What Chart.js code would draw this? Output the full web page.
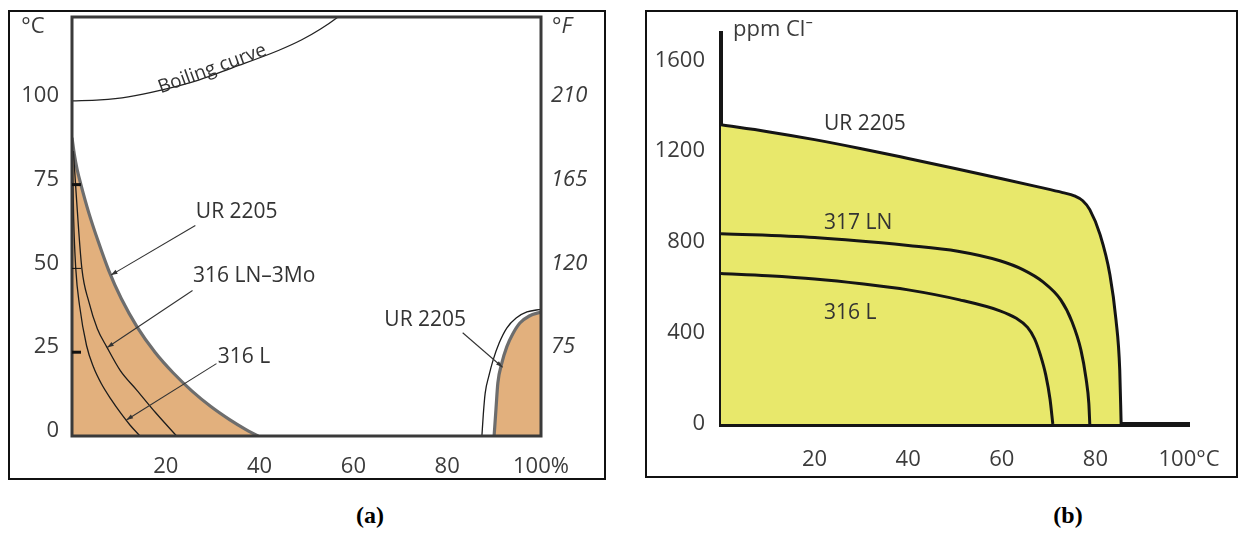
<!DOCTYPE html>
<html>
<head>
<meta charset="utf-8">
<script src="https://cdn.jsdelivr.net/npm/chart.js@4.4.0/dist/chart.umd.min.js"></script>
<style>
  body { margin:0; background:#fff; width:1247px; height:533px; position:relative; overflow:hidden; }
  .panel { position:absolute; box-sizing:border-box; border:2px solid #111; background:#fff; }
  #boxA { left:8px; top:10px; width:598px; height:470px; }
  #boxB { left:645px; top:10px; width:593px; height:468px; }
  .cap { position:absolute; top:502px; font:bold 24px "Liberation Serif", "DejaVu Serif", serif; transform:translateX(-50%); }
</style>
</head>
<body>
<div class="panel" id="boxA"><canvas id="chartA"></canvas></div>
<div class="panel" id="boxB"><canvas id="chartB"></canvas></div>
<div class="cap" style="left:370px">(a)</div>
<div class="cap" style="left:1068px">(b)</div>

<script>
// ---- (a) temperature (°C) against NaCl concentration (%) ----
const pctTicks = [20, 40, 60, 80, 100]
const celsiusTicks = [0, 25, 50, 75, 100]
const fahrenheitTicks = ['75', '120', '165', '210']   // shown at 25, 50, 75, 100 °C

const boilPct = [0, 6, 12, 19, 27, 34.3, 44, 49, 53, 56.5, 59]
const boilC   = [100, 100.3, 101.2, 103.2, 106.2, 109.9, 115, 118.2, 121.4, 124.8, 127.6]

const urLeftPct = [0, 0.5, 1.1, 1.9, 3.6, 5.6, 7.8, 10.5, 13.9, 17.7, 21.6, 25.6, 29.6, 33.6, 37, 39.7]
const urLeftC   = [89, 84, 79.5, 75, 66.5, 58, 49.5, 41, 32.5, 25, 18.8, 13.4, 8.8, 4.9, 2, 0]

const ln3moPct = [0.3, 0.9, 2.1, 3.6, 5.4, 7.4, 10.3, 13.8, 17.8, 22.3]
const ln3moC   = [85, 72, 50, 40, 32, 26.6, 19.5, 13.7, 7, 0]

const l316Pct = [0.1, 0.35, 0.8, 1.6, 3.1, 4.6, 6.3, 8.3, 10.4, 12.4, 14.5]
const l316C   = [84, 65, 50, 39, 27, 20.5, 15.5, 11, 6.8, 3.2, 0]

const urRightPct = [90, 90.4, 90.8, 91.6, 92.7, 94, 95.5, 97.5, 100]
const urRightC   = [0, 8, 15.8, 21.5, 26.6, 30.5, 33.7, 35.8, 37]
const urRightOuterPct = [87.4, 87.7, 88.1, 88.9, 89.8, 91.1, 92.7, 94.7, 97, 100]
const urRightOuterC   = [0, 6.5, 12.8, 18, 22.7, 27.8, 32.2, 35.2, 37, 37.8]

// ---- (b) chloride (ppm) against temperature (°C) ----
const tempTicks = [20, 40, 60, 80, 100]
const ppmTicks = [0, 400, 800, 1200, 1600]

const bUrT   = [0, 10, 20, 30, 40, 50, 60, 68, 73, 75.5, 77.3, 78.8, 81, 83.1, 84.4, 85.2, 85.5]
const bUrPpm = [1316, 1286, 1251, 1211, 1168, 1124, 1079, 1042, 1018, 1004, 982, 943, 833, 657, 458, 238, 0]

const b317T   = [0, 20, 40, 50.6, 59.6, 64.5, 68.8, 72.6, 75, 76.9, 78, 78.6, 78.8]
const b317Ppm = [837, 820, 785, 760, 718, 679, 625, 546, 450, 326, 200, 90, 0]

const b316T   = [0, 10, 20, 30, 40, 51, 59.6, 63, 65.5, 67, 68.3, 69.4, 70.3, 70.9]
const b316Ppm = [662, 652, 638, 617, 590, 546, 498, 466, 425, 375, 300, 215, 110, 0]

const pts = (xs, ys) => xs.map((x, i) => ({x: x, y: ys[i]}))

const sans = '"Open Sans", "Noto Sans", sans-serif'
const ink = '#3b3b3b'
const tan = '#e2b07d'
const yellow = '#e8e86b'

function arrow(ctx, x1, y1, x2, y2) {
    ctx.beginPath(); ctx.moveTo(x1, y1); ctx.lineTo(x2, y2); ctx.stroke()
    const a = Math.atan2(y2 - y1, x2 - x1), h = 7
    ctx.beginPath()
    ctx.moveTo(x2, y2)
    ctx.lineTo(x2 - h * Math.cos(a - 0.32), y2 - h * Math.sin(a - 0.32))
    ctx.lineTo(x2 - h * Math.cos(a + 0.32), y2 - h * Math.sin(a + 0.32))
    ctx.closePath(); ctx.fill()
}

// fixed axis sizes, and no extra room for overhanging tick labels
const fixSize = (w, h) => s => {
    if (w !== null) s.width = w
    if (h !== null) s.height = h
    s.paddingTop = s.paddingBottom = s.paddingLeft = s.paddingRight = 0
}

const curve = {pointRadius: 0, cubicInterpolationMode: 'monotone', fill: false}
const noGrid = {display: false, drawTicks: false}

// annotations for (a): labels and leader lines in data units
const annotA = {
    id: 'annotA',
    afterDatasetsDraw(chart) {
        const {ctx, chartArea: ca, scales: {x, y}} = chart
        ctx.save()
        // frame round the plot
        ctx.strokeStyle = '#3a3a3a'; ctx.lineWidth = 3
        ctx.strokeRect(ca.left, ca.top, ca.right - ca.left, ca.bottom - ca.top)
        // short inner ticks on the °C side
        ctx.strokeStyle = '#111'
        ;[[25, 3], [50, 1], [75, 3]].forEach(([v, w]) => {
            ctx.lineWidth = w
            ctx.beginPath(); ctx.moveTo(ca.left, y.getPixelForValue(v)); ctx.lineTo(ca.left + 9, y.getPixelForValue(v)); ctx.stroke()
        })
        ctx.fillStyle = '#333'; ctx.strokeStyle = '#333'; ctx.lineWidth = 1.1
        ctx.font = '21px ' + sans
        ctx.textBaseline = 'middle'; ctx.textAlign = 'left'
        const labels = [['UR 2205', 26.4, 66.9], ['316 LN\u20133Mo', 25.8, 47.8], ['316 L', 31.1, 23.6], ['UR 2205', 66.6, 34.6]]
        labels.forEach(([t, px, py]) => ctx.fillText(t, x.getPixelForValue(px), y.getPixelForValue(py)))
        const leaders = [[26.3, 62.8, 8.3, 48], [25.7, 43.4, 7.5, 26.4], [30.8, 21.6, 11.6, 4.8], [83.3, 30.8, 91.8, 20.5]]
        leaders.forEach(([a, b, c, d]) => arrow(ctx, x.getPixelForValue(a), y.getPixelForValue(b), x.getPixelForValue(c), y.getPixelForValue(d)))
        // boiling curve caption, along the curve
        ctx.save()
        ctx.translate(x.getPixelForValue(29.9), y.getPixelForValue(109.5))
        ctx.rotate(-20 * Math.PI / 180)
        ctx.textAlign = 'center'
        ctx.font = '19px ' + sans
        ctx.fillText('Boiling curve', 0, 0)
        ctx.restore()
        // units
        ctx.fillStyle = ink
        ctx.font = '22px ' + sans
        ctx.textAlign = 'center'
        ctx.fillText('\u00b0C', ca.left - 39, ca.top + 10)
        ctx.font = 'italic 22px ' + sans
        ctx.fillText('\u00b0F', ca.right + 21, ca.top + 10)
        ctx.restore()
    }
}

new Chart(document.getElementById('chartA'), {
    type: 'line',
    data: {
        datasets: [
            {...curve, data: pts(boilPct, boilC), borderColor: '#222', borderWidth: 1.3, order: 1},
            {...curve, data: pts(ln3moPct, ln3moC), borderColor: '#1c1c1c', borderWidth: 1.3, order: 1},
            {...curve, data: pts(l316Pct, l316C), borderColor: '#1c1c1c', borderWidth: 1.3, order: 1},
            {...curve, data: pts(urRightOuterPct, urRightOuterC), borderColor: '#1c1c1c', borderWidth: 1.3, order: 1},
            {...curve, data: pts(urLeftPct, urLeftC), borderColor: '#6d6d6d', borderWidth: 3.2, backgroundColor: tan, fill: 'origin', order: 2},
            {...curve, data: pts(urRightPct, urRightC), borderColor: '#6d6d6d', borderWidth: 3.2, backgroundColor: tan, fill: 'origin', order: 2}
        ]
    },
    options: {
        responsive: true,
        maintainAspectRatio: false,
        animation: false,
        layout: {padding: {top: 5, left: 0, right: 0, bottom: 0}},
        plugins: {legend: {display: false}, tooltip: {enabled: false}},
        scales: {
            x: {
                type: 'linear', min: 0, max: 100,
                afterBuildTicks: s => { s.ticks = pctTicks.map(v => ({value: v})) },
                afterFit: fixSize(null, 42),
                ticks: {callback: v => v === 100 ? '100%' : String(v), font: {family: sans, size: 22}, color: ink, padding: 18, maxRotation: 0, autoSkip: false},
                grid: noGrid, border: {display: false}
            },
            y: {
                min: 0, max: 125,
                afterBuildTicks: s => { s.ticks = celsiusTicks.map(v => ({value: v})) },
                afterFit: fixSize(62, null),
                ticks: {callback: v => String(v), font: {family: sans, size: 22}, color: ink, padding: 13, labelOffset: -5, autoSkip: false},
                grid: noGrid, border: {display: false}
            },
            yF: {
                position: 'right', min: 0, max: 125,
                afterBuildTicks: s => { s.ticks = [25, 50, 75, 100].map(v => ({value: v})) },
                afterFit: fixSize(63, null),
                ticks: {callback: (v, i) => fahrenheitTicks[i], font: {family: sans, size: 22, style: 'italic'}, color: ink, padding: 10, labelOffset: -5, autoSkip: false},
                grid: noGrid, border: {display: false}
            }
        }
    },
    plugins: [annotA]
})

// annotations for (b)
const annotB = {
    id: 'annotB',
    afterDatasetsDraw(chart) {
        const {ctx, chartArea: ca, scales: {x, y}} = chart
        ctx.save()
        ctx.fillStyle = '#333'
        ctx.font = '21px ' + sans
        ctx.textBaseline = 'middle'; ctx.textAlign = 'left'
        ;[['UR 2205', 22, 1320], ['317 LN', 22, 886], ['316 L', 22, 487]].forEach(([t, px, py]) =>
            ctx.fillText(t, x.getPixelForValue(px), y.getPixelForValue(py)))
        ctx.fillStyle = ink
        ctx.textBaseline = 'alphabetic'
        ctx.font = '22px ' + sans
        ctx.fillText('ppm Cl\u207b', ca.left + 12, ca.top + 3)
        ctx.restore()
    }
}

new Chart(document.getElementById('chartB'), {
    type: 'line',
    data: {
        datasets: [
            {...curve, data: pts(b316T, b316Ppm), borderColor: '#151515', borderWidth: 3, order: 1},
            {...curve, data: pts(b317T, b317Ppm), borderColor: '#151515', borderWidth: 3, order: 1},
            {...curve, data: pts(bUrT, bUrPpm), borderColor: '#151515', borderWidth: 3, backgroundColor: yellow, fill: 'origin', order: 2}
        ]
    },
    options: {
        responsive: true,
        maintainAspectRatio: false,
        animation: false,
        layout: {padding: {top: 21, left: 0, right: 47, bottom: 0}},
        plugins: {legend: {display: false}, tooltip: {enabled: false}},
        scales: {
            x: {
                type: 'linear', min: 0, max: 100,
                afterBuildTicks: s => { s.ticks = tempTicks.map(v => ({value: v})) },
                afterFit: fixSize(null, 52),
                ticks: {callback: v => v === 100 ? '100\u00b0C' : String(v), font: {family: sans, size: 22}, color: ink, padding: 23, maxRotation: 0, autoSkip: false},
                grid: {display: true, drawTicks: false, drawOnChartArea: false, color: 'rgba(0,0,0,0)'},
                border: {display: true, width: 5, color: '#161616'}
            },
            y: {
                min: 0, max: 1720,
                afterBuildTicks: s => { s.ticks = ppmTicks.map(v => ({value: v})) },
                afterFit: fixSize(74, null),
                ticks: {callback: v => String(v), font: {family: sans, size: 22}, color: ink, padding: 16, autoSkip: false},
                grid: {display: true, drawTicks: false, drawOnChartArea: false, color: 'rgba(0,0,0,0)'},
                border: {display: true, width: 4, color: '#161616'}
            }
        }
    },
    plugins: [annotB]
})
</script>
</body>
</html>
